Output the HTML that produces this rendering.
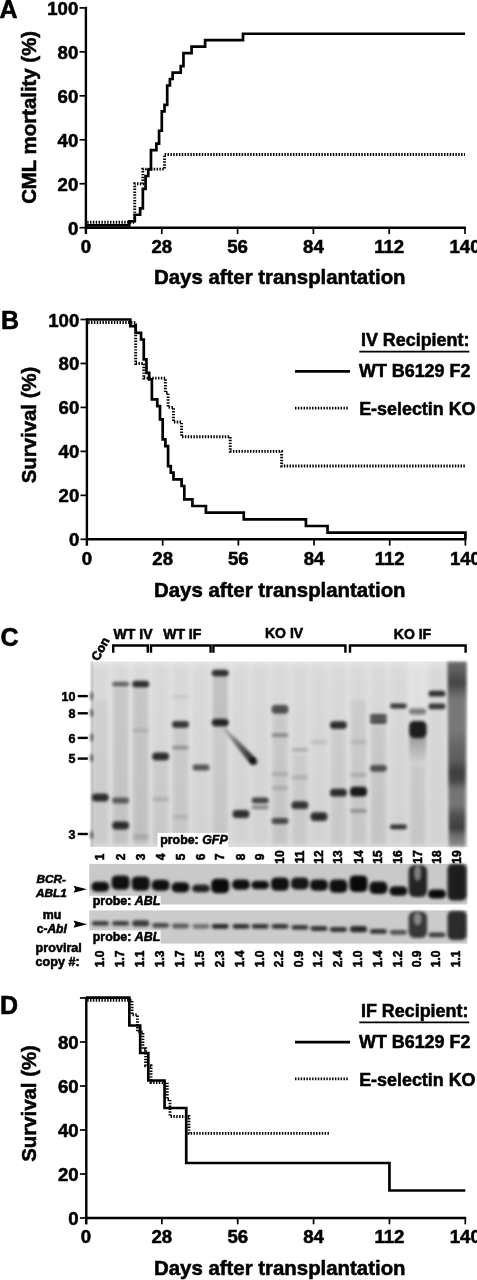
<!DOCTYPE html>
<html><head><meta charset="utf-8"><title>Figure</title>
<style>html,body{margin:0;padding:0;background:#fff;width:477px;height:1280px;overflow:hidden;position:relative}
svg text{font-family:"Liberation Sans", sans-serif;fill:#000;stroke:#000;stroke-width:0.55px}</style></head>
<body>
<svg width="477" height="1280" viewBox="0 0 477 1280" style="position:absolute;left:0;top:0;will-change:transform">
<rect width="477" height="1280" fill="#fff"/>
<line x1="85.9" y1="6.8" x2="85.9" y2="234" stroke="#000" stroke-width="2.4" />
<line x1="84.7" y1="227.7" x2="465.9" y2="227.7" stroke="#000" stroke-width="2.4" />
<line x1="79.5" y1="227.7" x2="85.9" y2="227.7" stroke="#000" stroke-width="1.7" />
<text x="78.3" y="234.7" font-size="18.6" text-anchor="end" font-weight="bold" >0</text>
<line x1="79.5" y1="183.74" x2="85.9" y2="183.74" stroke="#000" stroke-width="1.7" />
<text x="78.3" y="190.74" font-size="18.6" text-anchor="end" font-weight="bold" >20</text>
<line x1="79.5" y1="139.78" x2="85.9" y2="139.78" stroke="#000" stroke-width="1.7" />
<text x="78.3" y="146.78" font-size="18.6" text-anchor="end" font-weight="bold" >40</text>
<line x1="79.5" y1="95.82" x2="85.9" y2="95.82" stroke="#000" stroke-width="1.7" />
<text x="78.3" y="102.82" font-size="18.6" text-anchor="end" font-weight="bold" >60</text>
<line x1="79.5" y1="51.86" x2="85.9" y2="51.86" stroke="#000" stroke-width="1.7" />
<text x="78.3" y="58.86" font-size="18.6" text-anchor="end" font-weight="bold" >80</text>
<line x1="79.5" y1="7.9" x2="85.9" y2="7.9" stroke="#000" stroke-width="1.7" />
<text x="78.3" y="14.9" font-size="18.6" text-anchor="end" font-weight="bold" >100</text>
<line x1="86" y1="227.7" x2="86" y2="234" stroke="#000" stroke-width="1.7" />
<text x="86" y="252.8" font-size="18.6" text-anchor="middle" font-weight="bold" >0</text>
<line x1="161.8" y1="227.7" x2="161.8" y2="234" stroke="#000" stroke-width="1.7" />
<text x="161.8" y="252.8" font-size="18.6" text-anchor="middle" font-weight="bold" >28</text>
<line x1="237.6" y1="227.7" x2="237.6" y2="234" stroke="#000" stroke-width="1.7" />
<text x="237.6" y="252.8" font-size="18.6" text-anchor="middle" font-weight="bold" >56</text>
<line x1="313.4" y1="227.7" x2="313.4" y2="234" stroke="#000" stroke-width="1.7" />
<text x="313.4" y="252.8" font-size="18.6" text-anchor="middle" font-weight="bold" >84</text>
<line x1="389.2" y1="227.7" x2="389.2" y2="234" stroke="#000" stroke-width="1.7" />
<text x="389.2" y="252.8" font-size="18.6" text-anchor="middle" font-weight="bold" >112</text>
<line x1="465" y1="227.7" x2="465" y2="234" stroke="#000" stroke-width="1.7" />
<text x="465" y="252.8" font-size="18.6" text-anchor="middle" font-weight="bold" >140</text>
<text x="279.8" y="284.3" font-size="20.4" text-anchor="middle" font-weight="bold" >Days after transplantation</text>
<text transform="translate(35.9,117.4) rotate(-90)" font-size="20.4" font-weight="bold" text-anchor="middle">CML mortality (%)</text>
<text x="-0.6" y="18.2" font-size="25" text-anchor="start" font-weight="bold" >A</text>
<polyline points="86,225.4 129.31,225.4 129.31,221.24 134.73,221.24 134.73,214.77 140.14,214.77 140.14,208.31 142.85,208.31 142.85,188.91 145.56,188.91 145.56,175.98 148.26,175.98 148.26,169.52 150.97,169.52 150.97,150.12 156.39,150.12 156.39,143.66 159.09,143.66 159.09,130.73 161.8,130.73 161.8,111.34 164.51,111.34 164.51,104.87 167.21,104.87 167.21,85.48 169.92,85.48 169.92,79.01 172.63,79.01 172.63,72.55 180.75,72.55 180.75,66.08 183.46,66.08 183.46,53.15 191.58,53.15 191.58,46.69 205.11,46.69 205.11,40.22 243.01,40.22 243.01,33.76 465,33.76" fill="none" stroke="#000" stroke-width="2.7" stroke-linejoin="miter" stroke-linecap="butt"/>
<polyline points="87.2,222.3 134.73,222.3 134.73,183.74 142.85,183.74 142.85,169.09 164.51,169.09 164.51,154.43 465,154.43" fill="none" stroke="#000" stroke-width="2.9" stroke-linejoin="miter" stroke-linecap="butt" stroke-dasharray="1.45 1.4"/>
<line x1="86.9" y1="318.4" x2="86.9" y2="545.6" stroke="#000" stroke-width="2.4" />
<line x1="85.7" y1="539.3" x2="466.3" y2="539.3" stroke="#000" stroke-width="2.4" />
<line x1="80.5" y1="539.3" x2="86.9" y2="539.3" stroke="#000" stroke-width="1.7" />
<text x="79.3" y="546.3" font-size="18.6" text-anchor="end" font-weight="bold" >0</text>
<line x1="80.5" y1="495.34" x2="86.9" y2="495.34" stroke="#000" stroke-width="1.7" />
<text x="79.3" y="502.34" font-size="18.6" text-anchor="end" font-weight="bold" >20</text>
<line x1="80.5" y1="451.38" x2="86.9" y2="451.38" stroke="#000" stroke-width="1.7" />
<text x="79.3" y="458.38" font-size="18.6" text-anchor="end" font-weight="bold" >40</text>
<line x1="80.5" y1="407.42" x2="86.9" y2="407.42" stroke="#000" stroke-width="1.7" />
<text x="79.3" y="414.42" font-size="18.6" text-anchor="end" font-weight="bold" >60</text>
<line x1="80.5" y1="363.46" x2="86.9" y2="363.46" stroke="#000" stroke-width="1.7" />
<text x="79.3" y="370.46" font-size="18.6" text-anchor="end" font-weight="bold" >80</text>
<line x1="80.5" y1="319.5" x2="86.9" y2="319.5" stroke="#000" stroke-width="1.7" />
<text x="79.3" y="326.5" font-size="18.6" text-anchor="end" font-weight="bold" >100</text>
<line x1="87" y1="539.3" x2="87" y2="545.6" stroke="#000" stroke-width="1.7" />
<text x="87" y="565" font-size="18.6" text-anchor="middle" font-weight="bold" >0</text>
<line x1="162.68" y1="539.3" x2="162.68" y2="545.6" stroke="#000" stroke-width="1.7" />
<text x="162.68" y="565" font-size="18.6" text-anchor="middle" font-weight="bold" >28</text>
<line x1="238.36" y1="539.3" x2="238.36" y2="545.6" stroke="#000" stroke-width="1.7" />
<text x="238.36" y="565" font-size="18.6" text-anchor="middle" font-weight="bold" >56</text>
<line x1="314.04" y1="539.3" x2="314.04" y2="545.6" stroke="#000" stroke-width="1.7" />
<text x="314.04" y="565" font-size="18.6" text-anchor="middle" font-weight="bold" >84</text>
<line x1="389.72" y1="539.3" x2="389.72" y2="545.6" stroke="#000" stroke-width="1.7" />
<text x="389.72" y="565" font-size="18.6" text-anchor="middle" font-weight="bold" >112</text>
<line x1="465.4" y1="539.3" x2="465.4" y2="545.6" stroke="#000" stroke-width="1.7" />
<text x="465.4" y="565" font-size="18.6" text-anchor="middle" font-weight="bold" >140</text>
<text x="279.8" y="596.9" font-size="20.4" text-anchor="middle" font-weight="bold" >Days after transplantation</text>
<text transform="translate(35.9,425) rotate(-90)" font-size="20.4" font-weight="bold" text-anchor="middle">Survival (%)</text>
<text x="1" y="329.4" font-size="25" text-anchor="start" font-weight="bold" >B</text>
<polyline points="87,319.5 130.25,319.5 130.25,326.16 135.65,326.16 135.65,332.82 141.06,332.82 141.06,339.48 143.76,339.48 143.76,359.46 146.46,359.46 146.46,372.78 149.17,372.78 149.17,379.45 151.87,379.45 151.87,399.43 157.27,399.43 157.27,406.09 159.98,406.09 159.98,419.41 162.68,419.41 162.68,439.39 165.38,439.39 165.38,446.05 168.09,446.05 168.09,466.03 170.79,466.03 170.79,472.69 173.49,472.69 173.49,479.35 181.6,479.35 181.6,486.02 184.3,486.02 184.3,499.34 192.41,499.34 192.41,506 205.93,506 205.93,512.66 243.77,512.66 243.77,519.32 305.93,519.32 305.93,525.98 327.55,525.98 327.55,532.64 465.4,532.64 465.4,539.3 465.4,539.3" fill="none" stroke="#000" stroke-width="2.7" stroke-linejoin="miter" stroke-linecap="butt"/>
<polyline points="88.2,322.5 135.65,322.5 135.65,363.46 143.76,363.46 143.76,378.11 165.38,378.11 165.38,392.77 168.09,392.77 168.09,407.42 173.49,407.42 173.49,422.07 181.6,422.07 181.6,436.73 230.25,436.73 230.25,451.38 281.61,451.38 281.61,466.03 465.4,466.03" fill="none" stroke="#000" stroke-width="2.9" stroke-linejoin="miter" stroke-linecap="butt" stroke-dasharray="1.45 1.4"/>
<text x="361" y="345.8" font-size="17.9" text-anchor="start" font-weight="bold" >IV Recipient:</text>
<line x1="359.3" y1="351.6" x2="469.3" y2="351.6" stroke="#000" stroke-width="1.6" />
<line x1="295" y1="371.4" x2="350" y2="371.4" stroke="#000" stroke-width="2.7" />
<text x="359" y="376.9" font-size="17.9" text-anchor="start" font-weight="bold" >WT B6129 F2</text>
<line x1="295" y1="408.1" x2="349" y2="408.1" stroke="#000" stroke-width="2.9" stroke-dasharray="1.45 1.4"/>
<text x="359.2" y="414.9" font-size="17.9" text-anchor="start" font-weight="bold" >E-selectin KO</text>
<line x1="86.3" y1="996.9" x2="86.3" y2="1224.3" stroke="#000" stroke-width="2.4" />
<line x1="85.1" y1="1218" x2="466.2" y2="1218" stroke="#000" stroke-width="2.4" />
<line x1="79.9" y1="1218" x2="86.3" y2="1218" stroke="#000" stroke-width="1.7" />
<text x="78.7" y="1225" font-size="18.6" text-anchor="end" font-weight="bold" >0</text>
<line x1="79.9" y1="1174" x2="86.3" y2="1174" stroke="#000" stroke-width="1.7" />
<text x="78.7" y="1181" font-size="18.6" text-anchor="end" font-weight="bold" >20</text>
<line x1="79.9" y1="1130" x2="86.3" y2="1130" stroke="#000" stroke-width="1.7" />
<text x="78.7" y="1137" font-size="18.6" text-anchor="end" font-weight="bold" >40</text>
<line x1="79.9" y1="1086" x2="86.3" y2="1086" stroke="#000" stroke-width="1.7" />
<text x="78.7" y="1093" font-size="18.6" text-anchor="end" font-weight="bold" >60</text>
<line x1="79.9" y1="1042" x2="86.3" y2="1042" stroke="#000" stroke-width="1.7" />
<text x="78.7" y="1049" font-size="18.6" text-anchor="end" font-weight="bold" >80</text>
<line x1="79.9" y1="998" x2="86.3" y2="998" stroke="#000" stroke-width="1.7" />
<line x1="86" y1="1218" x2="86" y2="1224.3" stroke="#000" stroke-width="1.7" />
<text x="86" y="1242.8" font-size="18.6" text-anchor="middle" font-weight="bold" >0</text>
<line x1="161.86" y1="1218" x2="161.86" y2="1224.3" stroke="#000" stroke-width="1.7" />
<text x="161.86" y="1242.8" font-size="18.6" text-anchor="middle" font-weight="bold" >28</text>
<line x1="237.72" y1="1218" x2="237.72" y2="1224.3" stroke="#000" stroke-width="1.7" />
<text x="237.72" y="1242.8" font-size="18.6" text-anchor="middle" font-weight="bold" >56</text>
<line x1="313.58" y1="1218" x2="313.58" y2="1224.3" stroke="#000" stroke-width="1.7" />
<text x="313.58" y="1242.8" font-size="18.6" text-anchor="middle" font-weight="bold" >84</text>
<line x1="389.44" y1="1218" x2="389.44" y2="1224.3" stroke="#000" stroke-width="1.7" />
<text x="389.44" y="1242.8" font-size="18.6" text-anchor="middle" font-weight="bold" >112</text>
<line x1="465.3" y1="1218" x2="465.3" y2="1224.3" stroke="#000" stroke-width="1.7" />
<text x="465.3" y="1242.8" font-size="18.6" text-anchor="middle" font-weight="bold" >140</text>
<text x="279.8" y="1275.2" font-size="20.4" text-anchor="middle" font-weight="bold" >Days after transplantation</text>
<text transform="translate(35.9,1103.5) rotate(-90)" font-size="20.4" font-weight="bold" text-anchor="middle">Survival (%)</text>
<text x="0" y="1014.2" font-size="25" text-anchor="start" font-weight="bold" >D</text>
<polyline points="86,997.6 129.35,997.6 129.35,1025.5 140.19,1025.5 140.19,1053 148.31,1053 148.31,1080.5 164.57,1080.5 164.57,1108 186.24,1108 186.24,1163 389.44,1163 389.44,1190.5 465.3,1190.5" fill="none" stroke="#000" stroke-width="2.7" stroke-linejoin="miter" stroke-linecap="butt"/>
<polyline points="87.2,1000.3 132.06,1000.3 132.06,1014.92 137.48,1014.92 137.48,1031.85 142.9,1031.85 142.9,1048.77 145.6,1048.77 145.6,1065.69 151.02,1065.69 151.02,1082.62 167.28,1082.62 167.28,1099.54 169.99,1099.54 169.99,1116.46 188.95,1116.46 188.95,1133.38 329.84,1133.38" fill="none" stroke="#000" stroke-width="2.9" stroke-linejoin="miter" stroke-linecap="butt" stroke-dasharray="1.45 1.4"/>
<text x="361" y="1016.6" font-size="17.9" text-anchor="start" font-weight="bold" >IF Recipient:</text>
<line x1="359.3" y1="1022.4" x2="469.3" y2="1022.4" stroke="#000" stroke-width="1.6" />
<line x1="295" y1="1042.2" x2="350" y2="1042.2" stroke="#000" stroke-width="2.7" />
<text x="359" y="1047.7" font-size="17.9" text-anchor="start" font-weight="bold" >WT B6129 F2</text>
<line x1="295" y1="1078.9" x2="349" y2="1078.9" stroke="#000" stroke-width="2.9" stroke-dasharray="1.45 1.4"/>
<text x="359.2" y="1085.7" font-size="17.9" text-anchor="start" font-weight="bold" >E-selectin KO</text>
<defs><filter id="b1" x="-30%" y="-100%" width="160%" height="300%"><feGaussianBlur stdDeviation="1.4"/></filter><filter id="b2" x="-30%" y="-100%" width="160%" height="300%"><feGaussianBlur stdDeviation="1.6"/></filter><filter id="b3" x="-50%" y="-20%" width="200%" height="140%"><feGaussianBlur stdDeviation="2.5"/></filter><linearGradient id="gbg" x1="0" y1="0" x2="0" y2="1"><stop offset="0" stop-color="#e4e4e4"/><stop offset="1" stop-color="#dcdcdc"/></linearGradient></defs>
<text x="0.6" y="645.8" font-size="25" font-weight="bold" text-anchor="start" >C</text>
<text x="113.6" y="638.8" font-size="14" font-weight="bold" text-anchor="start" >WT IV</text>
<text x="163.2" y="638.8" font-size="14" font-weight="bold" text-anchor="start" >WT IF</text>
<text x="265" y="638.4" font-size="14" font-weight="bold" text-anchor="start" >KO IV</text>
<text x="393.8" y="638.5" font-size="14" font-weight="bold" text-anchor="start" >KO IF</text>
<polyline points="113.2,652.8 113.2,645.5 147.8,645.5 147.8,652.8" fill="none" stroke="#000" stroke-width="2.4"/>
<polyline points="151,652.8 151,645.5 210.6,645.5 210.6,652.8" fill="none" stroke="#000" stroke-width="2.4"/>
<polyline points="213.4,652.8 213.4,645.5 345.4,645.5 345.4,652.8" fill="none" stroke="#000" stroke-width="2.4"/>
<polyline points="350,652.8 350,645.5 465.6,645.5 465.6,652.8" fill="none" stroke="#000" stroke-width="2.4"/>
<text transform="translate(98.2,661.8) rotate(-61)" font-size="12.6" font-weight="bold">Con</text>
<rect x="90.5" y="661.5" width="377.0" height="185.5" fill="url(#gbg)"/>
<g opacity="0.045" filter="url(#b3)">
<rect x="92.3" y="665.5" width="16" height="177.5" fill="#000"/>
<rect x="112.6" y="665.5" width="16" height="177.5" fill="#000"/>
<rect x="132.7" y="665.5" width="16" height="177.5" fill="#000"/>
<rect x="152.6" y="665.5" width="16" height="177.5" fill="#000"/>
<rect x="172.5" y="665.5" width="16" height="177.5" fill="#000"/>
<rect x="193" y="665.5" width="16" height="177.5" fill="#000"/>
<rect x="212.2" y="665.5" width="16" height="177.5" fill="#000"/>
<rect x="233" y="665.5" width="16" height="177.5" fill="#000"/>
<rect x="252.2" y="665.5" width="16" height="177.5" fill="#000"/>
<rect x="272" y="665.5" width="16" height="177.5" fill="#000"/>
<rect x="291.9" y="665.5" width="16" height="177.5" fill="#000"/>
<rect x="311" y="665.5" width="16" height="177.5" fill="#000"/>
<rect x="330.4" y="665.5" width="16" height="177.5" fill="#000"/>
<rect x="350.5" y="665.5" width="16" height="177.5" fill="#000"/>
<rect x="370.4" y="665.5" width="16" height="177.5" fill="#000"/>
<rect x="390.4" y="665.5" width="16" height="177.5" fill="#000"/>
<rect x="409.6" y="665.5" width="16" height="177.5" fill="#000"/>
<rect x="429" y="665.5" width="16" height="177.5" fill="#000"/>
<rect x="448.8" y="665.5" width="16" height="177.5" fill="#000"/>
</g>
<rect x="113.1" y="688" width="15" height="157" fill="#000" opacity="0.07" filter="url(#b2)"/>
<rect x="133.2" y="689" width="15" height="156" fill="#000" opacity="0.08" filter="url(#b2)"/>
<rect x="212.7" y="677" width="15" height="42" fill="#000" opacity="0.1" filter="url(#b2)"/>
<rect x="212.7" y="727" width="15" height="118" fill="#000" opacity="0.05" filter="url(#b2)"/>
<rect x="173" y="729" width="15" height="116" fill="#000" opacity="0.05" filter="url(#b2)"/>
<rect x="272.5" y="714" width="15" height="131" fill="#000" opacity="0.06" filter="url(#b2)"/>
<rect x="351" y="700" width="15" height="145" fill="#000" opacity="0.05" filter="url(#b2)"/>
<rect x="370.9" y="726" width="15" height="119" fill="#000" opacity="0.06" filter="url(#b2)"/>
<rect x="410.1" y="766" width="15" height="80" fill="#000" opacity="0.05" filter="url(#b2)"/>
<rect x="292.4" y="755" width="15" height="90" fill="#000" opacity="0.04" filter="url(#b2)"/>
<rect x="330.9" y="730" width="15" height="115" fill="#000" opacity="0.04" filter="url(#b2)"/>
<rect x="153.1" y="762" width="15" height="83" fill="#000" opacity="0.04" filter="url(#b2)"/>
<rect x="92.8" y="700" width="15" height="145" fill="#000" opacity="0.03" filter="url(#b2)"/>
<rect x="90.5" y="661.5" width="3" height="185.5" fill="#000" opacity="0.08"/>
<rect x="408.6" y="661.5" width="18" height="46" fill="#fff" opacity="0.22" filter="url(#b1)"/>
<linearGradient id="l17" x1="0" y1="0" x2="0" y2="1"><stop offset="0" stop-color="#000" stop-opacity="0.28"/><stop offset="0.5" stop-color="#000" stop-opacity="0.14"/><stop offset="1" stop-color="#000" stop-opacity="0"/></linearGradient>
<rect x="409.1" y="736" width="17" height="30" fill="url(#l17)" filter="url(#b1)"/>
<rect x="409.1" y="721" width="17.5" height="17" rx="5" fill="#000" opacity="0.86" filter="url(#b1)"/>
<linearGradient id="l19" x1="0" y1="0" x2="0" y2="1"><stop offset="0" stop-color="#000" stop-opacity="0.52"/><stop offset="0.05" stop-color="#000" stop-opacity="0.58"/><stop offset="0.12" stop-color="#000" stop-opacity="0.68"/><stop offset="0.16" stop-color="#000" stop-opacity="0.55"/><stop offset="0.21" stop-color="#000" stop-opacity="0.45"/><stop offset="0.37" stop-color="#000" stop-opacity="0.44"/><stop offset="0.45" stop-color="#000" stop-opacity="0.52"/><stop offset="0.53" stop-color="#000" stop-opacity="0.56"/><stop offset="0.59" stop-color="#000" stop-opacity="0.7"/><stop offset="0.64" stop-color="#000" stop-opacity="0.68"/><stop offset="0.69" stop-color="#000" stop-opacity="0.46"/><stop offset="0.77" stop-color="#000" stop-opacity="0.44"/><stop offset="0.84" stop-color="#000" stop-opacity="0.64"/><stop offset="0.9" stop-color="#000" stop-opacity="0.7"/><stop offset="0.94" stop-color="#000" stop-opacity="0.48"/><stop offset="1" stop-color="#000" stop-opacity="0.34"/></linearGradient>
<path d="M447.4,661.8 L466.6,661.8 L465.2,846.5 L448.8,846.5 Z" fill="url(#l19)" filter="url(#b1)"/>
<ellipse cx="91.5" cy="696" rx="2" ry="4" fill="#000" opacity="0.45" filter="url(#b1)"/>
<ellipse cx="91.5" cy="713" rx="2" ry="4" fill="#000" opacity="0.45" filter="url(#b1)"/>
<ellipse cx="91.5" cy="737.5" rx="2" ry="4" fill="#000" opacity="0.45" filter="url(#b1)"/>
<ellipse cx="91.5" cy="758" rx="2" ry="4" fill="#000" opacity="0.45" filter="url(#b1)"/>
<ellipse cx="91.5" cy="835" rx="2" ry="4" fill="#000" opacity="0.45" filter="url(#b1)"/>
<rect x="91.8" y="793.6" width="17" height="7.8" rx="3.9" fill="#000" opacity="0.78" filter="url(#b1)"/>
<rect x="112.1" y="681.8" width="17" height="4.8" rx="2.4" fill="#000" opacity="0.55" filter="url(#b1)"/>
<rect x="112.1" y="797.6" width="17" height="5.8" rx="2.9" fill="#000" opacity="0.55" filter="url(#b1)"/>
<rect x="112.1" y="821.6" width="17" height="7.8" rx="3.9" fill="#000" opacity="0.78" filter="url(#b1)"/>
<rect x="132.2" y="680.8" width="17" height="6.8" rx="3.4" fill="#000" opacity="0.78" filter="url(#b1)"/>
<rect x="132.2" y="728.4" width="17" height="3.8" rx="1.9" fill="#000" opacity="0.11" filter="url(#b1)"/>
<rect x="132.2" y="834.1" width="17" height="5.8" rx="2.9" fill="#000" opacity="0.11" filter="url(#b1)"/>
<rect x="152.1" y="752.6" width="17" height="7.8" rx="3.9" fill="#000" opacity="0.78" filter="url(#b1)"/>
<rect x="152.1" y="797.5" width="17" height="3.8" rx="1.9" fill="#000" opacity="0.14" filter="url(#b1)"/>
<rect x="172" y="721.1" width="17" height="6.8" rx="3.4" fill="#000" opacity="0.74" filter="url(#b1)"/>
<rect x="172" y="745.8" width="17" height="3.8" rx="1.9" fill="#000" opacity="0.28" filter="url(#b1)"/>
<rect x="172" y="695.4" width="17" height="2.8" rx="1.4" fill="#000" opacity="0.09" filter="url(#b1)"/>
<rect x="172" y="815.1" width="17" height="3.8" rx="1.9" fill="#000" opacity="0.11" filter="url(#b1)"/>
<rect x="192.5" y="764.6" width="17" height="5.8" rx="2.9" fill="#000" opacity="0.6" filter="url(#b1)"/>
<rect x="211.7" y="669.7" width="17" height="6.8" rx="3.4" fill="#000" opacity="0.78" filter="url(#b1)"/>
<rect x="211.7" y="718.7" width="17" height="7.8" rx="3.9" fill="#000" opacity="0.83" filter="url(#b1)"/>
<rect x="232.5" y="810.1" width="17" height="7.8" rx="3.9" fill="#000" opacity="0.78" filter="url(#b1)"/>
<rect x="251.7" y="797.5" width="17" height="5.8" rx="2.9" fill="#000" opacity="0.69" filter="url(#b1)"/>
<rect x="251.7" y="805.4" width="17" height="3.8" rx="1.9" fill="#000" opacity="0.37" filter="url(#b1)"/>
<rect x="271.5" y="705" width="17" height="8.8" rx="4" fill="#000" opacity="0.64" filter="url(#b1)"/>
<rect x="271.5" y="733.2" width="17" height="3.8" rx="1.9" fill="#000" opacity="0.32" filter="url(#b1)"/>
<rect x="271.5" y="772.3" width="17" height="3.8" rx="1.9" fill="#000" opacity="0.14" filter="url(#b1)"/>
<rect x="271.5" y="785.9" width="17" height="3.8" rx="1.9" fill="#000" opacity="0.14" filter="url(#b1)"/>
<rect x="271.5" y="818.1" width="17" height="5.8" rx="2.9" fill="#000" opacity="0.64" filter="url(#b1)"/>
<rect x="291.4" y="747.9" width="17" height="3.8" rx="1.9" fill="#000" opacity="0.18" filter="url(#b1)"/>
<rect x="291.4" y="775.5" width="17" height="3.8" rx="1.9" fill="#000" opacity="0.14" filter="url(#b1)"/>
<rect x="291.4" y="801.3" width="17" height="7.8" rx="3.9" fill="#000" opacity="0.74" filter="url(#b1)"/>
<rect x="310.5" y="739.6" width="17" height="4.8" rx="2.4" fill="#000" opacity="0.09" filter="url(#b1)"/>
<rect x="310.5" y="812.2" width="17" height="8.8" rx="4" fill="#000" opacity="0.78" filter="url(#b1)"/>
<rect x="329.9" y="721.2" width="17" height="7.8" rx="3.9" fill="#000" opacity="0.78" filter="url(#b1)"/>
<rect x="329.9" y="788.8" width="17" height="7.8" rx="3.9" fill="#000" opacity="0.78" filter="url(#b1)"/>
<rect x="350" y="739.6" width="17" height="4.8" rx="2.4" fill="#000" opacity="0.09" filter="url(#b1)"/>
<rect x="350" y="773.1" width="17" height="3.8" rx="1.9" fill="#000" opacity="0.14" filter="url(#b1)"/>
<rect x="350" y="786.7" width="17" height="9.8" rx="4" fill="#000" opacity="0.87" filter="url(#b1)"/>
<rect x="350" y="809" width="17" height="3.8" rx="1.9" fill="#000" opacity="0.28" filter="url(#b1)"/>
<rect x="369.9" y="714.1" width="17" height="4.8" rx="2.4" fill="#000" opacity="0.51" filter="url(#b1)"/>
<rect x="369.9" y="719.1" width="17" height="4.8" rx="2.4" fill="#000" opacity="0.55" filter="url(#b1)"/>
<rect x="369.9" y="714.6" width="17" height="8.8" rx="4" fill="#000" opacity="0.23" filter="url(#b1)"/>
<rect x="369.9" y="764.9" width="17" height="6.8" rx="3.4" fill="#000" opacity="0.6" filter="url(#b1)"/>
<rect x="389.9" y="703.6" width="17" height="4.8" rx="2.4" fill="#000" opacity="0.74" filter="url(#b1)"/>
<rect x="389.9" y="824.5" width="17" height="4.8" rx="2.4" fill="#000" opacity="0.78" filter="url(#b1)"/>
<rect x="409.1" y="708.6" width="17" height="5.8" rx="2.9" fill="#000" opacity="0.41" filter="url(#b1)"/>
<rect x="428.5" y="690.8" width="17" height="5.8" rx="2.9" fill="#000" opacity="0.78" filter="url(#b1)"/>
<rect x="428.5" y="703.5" width="17" height="5.8" rx="2.9" fill="#000" opacity="0.74" filter="url(#b1)"/>
<linearGradient id="stk" gradientUnits="userSpaceOnUse" x1="224" y1="728" x2="254" y2="762.5"><stop offset="0" stop-color="#000" stop-opacity="0.15"/><stop offset="0.45" stop-color="#000" stop-opacity="0.5"/><stop offset="1" stop-color="#000" stop-opacity="0.85"/></linearGradient>
<g filter="url(#b1)"><polygon points="223.2,729.5 250.6,764.3 256.4,758.8 225.2,727.5" fill="url(#stk)"/><circle cx="253.5" cy="761.5" r="3.8" fill="#000" opacity="0.8"/></g>
<text x="75.4" y="700.9" font-size="12.5" font-weight="bold" text-anchor="end" >10</text>
<line x1="77.7" y1="696.1" x2="87.8" y2="696.1" stroke="#000" stroke-width="2.4"/>
<text x="75.4" y="718.1" font-size="12.5" font-weight="bold" text-anchor="end" >8</text>
<line x1="77.7" y1="713.3" x2="87.8" y2="713.3" stroke="#000" stroke-width="2.4"/>
<text x="75.4" y="742.7" font-size="12.5" font-weight="bold" text-anchor="end" >6</text>
<line x1="77.7" y1="737.9" x2="87.8" y2="737.9" stroke="#000" stroke-width="2.4"/>
<text x="75.4" y="763.4" font-size="12.5" font-weight="bold" text-anchor="end" >5</text>
<line x1="77.7" y1="758.6" x2="87.8" y2="758.6" stroke="#000" stroke-width="2.4"/>
<text x="75.4" y="838.8" font-size="12.5" font-weight="bold" text-anchor="end" >3</text>
<line x1="77.7" y1="834" x2="87.8" y2="834" stroke="#000" stroke-width="2.4"/>
<rect x="157.5" y="832.9" width="70.8" height="14.2" fill="#fff"/>
<text x="160.2" y="844.4" font-size="12.4" font-weight="bold">probe: <tspan font-style="italic">GFP</tspan></text>
<text transform="translate(104.3,857.0) rotate(-90)" font-size="12" font-weight="bold" text-anchor="middle">1</text>
<text transform="translate(124.6,857.0) rotate(-90)" font-size="12" font-weight="bold" text-anchor="middle">2</text>
<text transform="translate(144.7,857.0) rotate(-90)" font-size="12" font-weight="bold" text-anchor="middle">3</text>
<text transform="translate(164.6,857.0) rotate(-90)" font-size="12" font-weight="bold" text-anchor="middle">4</text>
<text transform="translate(184.5,857.0) rotate(-90)" font-size="12" font-weight="bold" text-anchor="middle">5</text>
<text transform="translate(205,857.0) rotate(-90)" font-size="12" font-weight="bold" text-anchor="middle">6</text>
<text transform="translate(224.2,857.0) rotate(-90)" font-size="12" font-weight="bold" text-anchor="middle">7</text>
<text transform="translate(245,857.0) rotate(-90)" font-size="12" font-weight="bold" text-anchor="middle">8</text>
<text transform="translate(264.2,857.0) rotate(-90)" font-size="12" font-weight="bold" text-anchor="middle">9</text>
<text transform="translate(284,857.0) rotate(-90)" font-size="12" font-weight="bold" text-anchor="middle">10</text>
<text transform="translate(303.9,857.0) rotate(-90)" font-size="12" font-weight="bold" text-anchor="middle">11</text>
<text transform="translate(323,857.0) rotate(-90)" font-size="12" font-weight="bold" text-anchor="middle">12</text>
<text transform="translate(342.4,857.0) rotate(-90)" font-size="12" font-weight="bold" text-anchor="middle">13</text>
<text transform="translate(362.5,857.0) rotate(-90)" font-size="12" font-weight="bold" text-anchor="middle">14</text>
<text transform="translate(382.4,857.0) rotate(-90)" font-size="12" font-weight="bold" text-anchor="middle">15</text>
<text transform="translate(402.4,857.0) rotate(-90)" font-size="12" font-weight="bold" text-anchor="middle">16</text>
<text transform="translate(421.6,857.0) rotate(-90)" font-size="12" font-weight="bold" text-anchor="middle">17</text>
<text transform="translate(441,857.0) rotate(-90)" font-size="12" font-weight="bold" text-anchor="middle">18</text>
<text transform="translate(460.8,857.0) rotate(-90)" font-size="12" font-weight="bold" text-anchor="middle">19</text>
<rect x="89.3" y="863.9" width="378" height="40.6" fill="#c9c9c9"/>
<rect x="89.3" y="910.4" width="378" height="33.2" fill="#cbcbcb"/>
<rect x="91.3" y="881.7" width="18" height="10.1" rx="5" fill="#000" opacity="0.92" filter="url(#b2)"/>
<rect x="111.6" y="875.4" width="18" height="14.3" rx="5" fill="#000" opacity="0.92" filter="url(#b2)"/>
<rect x="131.7" y="876.4" width="18" height="14.3" rx="5" fill="#000" opacity="0.92" filter="url(#b2)"/>
<rect x="151.6" y="879.7" width="18" height="11" rx="5" fill="#000" opacity="0.92" filter="url(#b2)"/>
<rect x="171.5" y="882.2" width="18" height="10.3" rx="5" fill="#000" opacity="0.92" filter="url(#b2)"/>
<rect x="192" y="884.5" width="18" height="7.8" rx="5" fill="#000" opacity="0.84" filter="url(#b2)"/>
<rect x="211.2" y="878.7" width="18" height="14.6" rx="5" fill="#000" opacity="0.95" filter="url(#b2)"/>
<rect x="232" y="879.5" width="18" height="10.3" rx="5" fill="#000" opacity="0.92" filter="url(#b2)"/>
<rect x="251.2" y="880.7" width="18" height="8.6" rx="5" fill="#000" opacity="0.92" filter="url(#b2)"/>
<rect x="271" y="877.5" width="18" height="13.2" rx="5" fill="#000" opacity="0.92" filter="url(#b2)"/>
<rect x="290.9" y="877.5" width="18" height="12" rx="5" fill="#000" opacity="0.89" filter="url(#b2)"/>
<rect x="310" y="879.6" width="18" height="11.1" rx="5" fill="#000" opacity="0.92" filter="url(#b2)"/>
<rect x="329.4" y="879.6" width="18" height="13.2" rx="5" fill="#000" opacity="0.92" filter="url(#b2)"/>
<rect x="349.5" y="875.4" width="18" height="16.6" rx="5" fill="#000" opacity="0.95" filter="url(#b2)"/>
<rect x="369.4" y="881.5" width="18" height="12.4" rx="5" fill="#000" opacity="0.92" filter="url(#b2)"/>
<rect x="389.4" y="886.2" width="18" height="9.6" rx="5" fill="#000" opacity="0.92" filter="url(#b2)"/>
<rect x="428" y="889.5" width="18" height="9" rx="5" fill="#000" opacity="0.95" filter="url(#b2)"/>
<rect x="91.8" y="921" width="17" height="4.8" rx="3" fill="#000" opacity="0.7" filter="url(#b1)"/>
<rect x="112.1" y="921" width="17" height="4.8" rx="3" fill="#000" opacity="0.7" filter="url(#b1)"/>
<rect x="132.2" y="920.25" width="17" height="6.3" rx="3" fill="#000" opacity="0.72" filter="url(#b1)"/>
<rect x="152.1" y="922.9" width="17" height="4.8" rx="3" fill="#000" opacity="0.65" filter="url(#b1)"/>
<rect x="172" y="923.6" width="17" height="4.8" rx="3" fill="#000" opacity="0.55" filter="url(#b1)"/>
<rect x="192.5" y="923.9" width="17" height="4.8" rx="3" fill="#000" opacity="0.45" filter="url(#b1)"/>
<rect x="211.7" y="923.9" width="17" height="4.8" rx="3" fill="#000" opacity="0.82" filter="url(#b1)"/>
<rect x="232.5" y="923.9" width="17" height="4.8" rx="3" fill="#000" opacity="0.78" filter="url(#b1)"/>
<rect x="251.7" y="923.9" width="17" height="4.8" rx="3" fill="#000" opacity="0.75" filter="url(#b1)"/>
<rect x="271.5" y="923.9" width="17" height="4.8" rx="3" fill="#000" opacity="0.75" filter="url(#b1)"/>
<rect x="291.4" y="924.9" width="17" height="4.8" rx="3" fill="#000" opacity="0.72" filter="url(#b1)"/>
<rect x="310.5" y="926.1" width="17" height="4.8" rx="3" fill="#000" opacity="0.75" filter="url(#b1)"/>
<rect x="329.9" y="927.1" width="17" height="4.8" rx="3" fill="#000" opacity="0.75" filter="url(#b1)"/>
<rect x="350" y="925.95" width="17" height="6.3" rx="3" fill="#000" opacity="0.8" filter="url(#b1)"/>
<rect x="369.9" y="929" width="17" height="4.8" rx="3" fill="#000" opacity="0.75" filter="url(#b1)"/>
<rect x="389.9" y="929.9" width="17" height="4.8" rx="3" fill="#000" opacity="0.6" filter="url(#b1)"/>
<rect x="428.5" y="932.4" width="17" height="4.8" rx="3" fill="#000" opacity="0.7" filter="url(#b1)"/>
<rect x="408.6" y="865" width="18.5" height="32" rx="6" fill="#000" opacity="0.82" filter="url(#b2)"/>
<ellipse cx="417.6" cy="873" rx="3.6" ry="8" fill="#c9c9c9" opacity="0.55" filter="url(#b2)"/>
<rect x="408.6" y="911.5" width="18.5" height="26.5" rx="6" fill="#000" opacity="0.72" filter="url(#b2)"/>
<ellipse cx="417.6" cy="919" rx="4" ry="6.5" fill="#cbcbcb" opacity="0.55" filter="url(#b2)"/>
<rect x="447.5" y="864" width="19" height="36.5" rx="5" fill="#000" opacity="0.85" filter="url(#b2)"/>
<rect x="447.5" y="911" width="19" height="29" rx="5" fill="#000" opacity="0.78" filter="url(#b2)"/>
<rect x="89" y="895.8" width="71.6" height="8.8" fill="#fff"/>
<text x="92.8" y="905.0" font-size="12.4" font-weight="bold">probe: <tspan font-style="italic">ABL</tspan></text>
<rect x="89" y="930.4" width="71.6" height="13.6" fill="#fff"/>
<text x="92.8" y="940.6" font-size="12.4" font-weight="bold">probe: <tspan font-style="italic">ABL</tspan></text>
<text x="51.3" y="882.6" font-size="11.8" font-weight="bold" font-style="italic" text-anchor="middle">BCR-</text>
<text x="51.3" y="896.8" font-size="11.8" font-weight="bold" font-style="italic" text-anchor="middle">ABL1</text>
<text x="52" y="918.8" font-size="12.4" font-weight="bold" text-anchor="middle">mu</text>
<text x="51.8" y="932.6" font-size="12" font-weight="bold" text-anchor="middle">c-<tspan font-style="italic">Abl</tspan></text>
<polygon points="73.6,885.7 87,889.2 73.6,892.7 75.2,889.2" fill="#000"/>
<polygon points="73.6,920.6 87,924.2 73.6,927.8 75.2,924.2" fill="#000"/>
<text x="35.6" y="951.5" font-size="12.6" font-weight="bold">proviral</text>
<text x="35.6" y="966.2" font-size="12.6" font-weight="bold">copy #:</text>
<text transform="translate(103.7,958.9) rotate(-90)" font-size="12" font-weight="bold" text-anchor="middle">1.0</text>
<text transform="translate(124,958.9) rotate(-90)" font-size="12" font-weight="bold" text-anchor="middle">1.7</text>
<text transform="translate(144.1,958.9) rotate(-90)" font-size="12" font-weight="bold" text-anchor="middle">1.1</text>
<text transform="translate(164,958.9) rotate(-90)" font-size="12" font-weight="bold" text-anchor="middle">1.3</text>
<text transform="translate(183.9,958.9) rotate(-90)" font-size="12" font-weight="bold" text-anchor="middle">1.7</text>
<text transform="translate(204.4,958.9) rotate(-90)" font-size="12" font-weight="bold" text-anchor="middle">1.5</text>
<text transform="translate(223.6,958.9) rotate(-90)" font-size="12" font-weight="bold" text-anchor="middle">2.3</text>
<text transform="translate(244.4,958.9) rotate(-90)" font-size="12" font-weight="bold" text-anchor="middle">1.4</text>
<text transform="translate(263.6,958.9) rotate(-90)" font-size="12" font-weight="bold" text-anchor="middle">1.0</text>
<text transform="translate(283.4,958.9) rotate(-90)" font-size="12" font-weight="bold" text-anchor="middle">2.2</text>
<text transform="translate(303.3,958.9) rotate(-90)" font-size="12" font-weight="bold" text-anchor="middle">0.9</text>
<text transform="translate(322.4,958.9) rotate(-90)" font-size="12" font-weight="bold" text-anchor="middle">1.2</text>
<text transform="translate(341.8,958.9) rotate(-90)" font-size="12" font-weight="bold" text-anchor="middle">2.4</text>
<text transform="translate(361.9,958.9) rotate(-90)" font-size="12" font-weight="bold" text-anchor="middle">1.0</text>
<text transform="translate(381.8,958.9) rotate(-90)" font-size="12" font-weight="bold" text-anchor="middle">1.4</text>
<text transform="translate(401.8,958.9) rotate(-90)" font-size="12" font-weight="bold" text-anchor="middle">1.2</text>
<text transform="translate(421,958.9) rotate(-90)" font-size="12" font-weight="bold" text-anchor="middle">0.9</text>
<text transform="translate(440.4,958.9) rotate(-90)" font-size="12" font-weight="bold" text-anchor="middle">1.0</text>
<text transform="translate(460.2,958.9) rotate(-90)" font-size="12" font-weight="bold" text-anchor="middle">1.1</text>
</svg>
</body></html>
